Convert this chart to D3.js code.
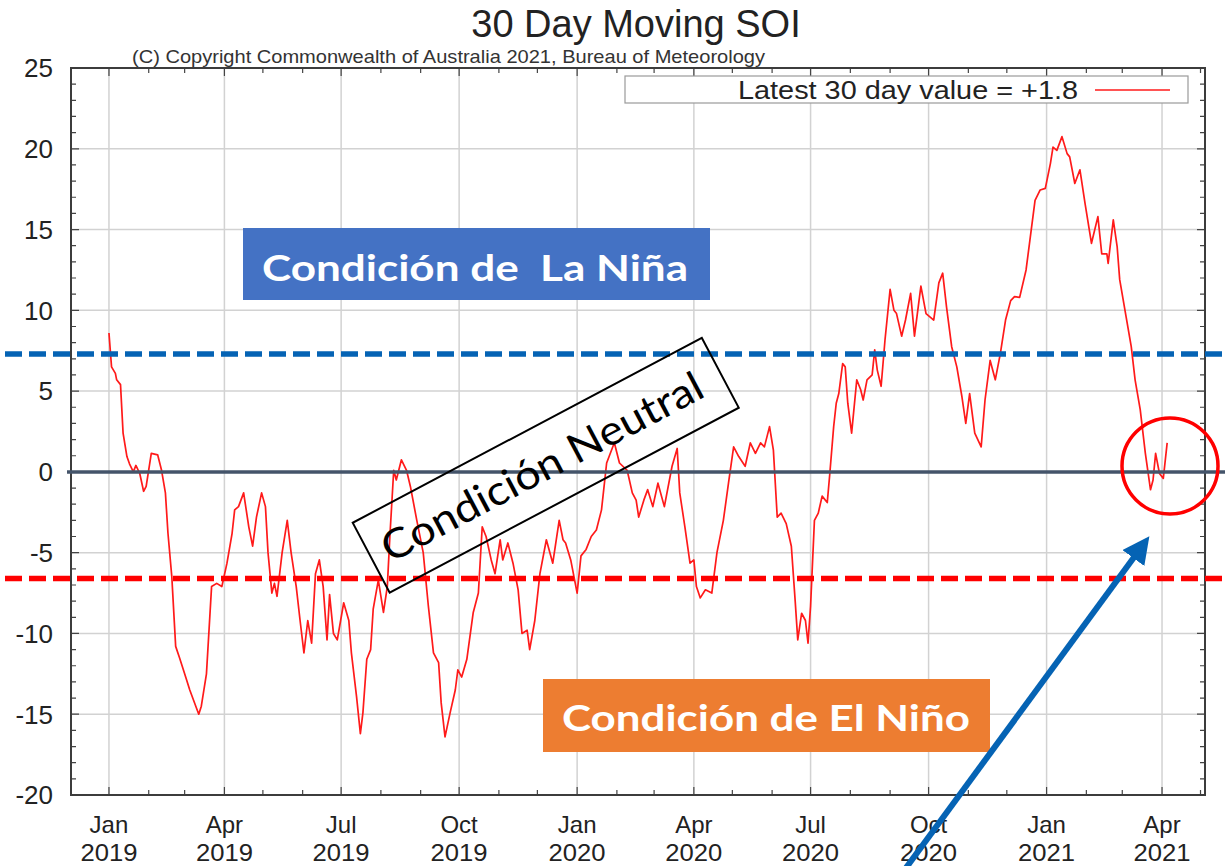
<!DOCTYPE html>
<html>
<head>
<meta charset="utf-8">
<script src="https://cdn.jsdelivr.net/npm/d3@7"></script>
<style>
  body { margin: 0; background: #fff; }
  svg { display: block; }
</style>
</head>
<body>
<svg id="chart" width="1225" height="866"></svg>
<script>
// days since 1 Jan 2019
var dayOffsets = [0,2,5,6,9,11,14,16,19,21,24,27,29,33,38,41,44,46,49,52,
    55,59,63,70,72,76,80,84,88,92,96,98,101,105,109,112,115,119,122,124,
    127,129,131,135,139,142,146,149,152,155,158,161,164,167,170,172,175,178,183,187,
    189,193,196,198,201,204,206,210,214,217,219,222,224,228,232,235,240,245,249,253,
    257,259,262,266,270,272,275,279,284,288,291,294,298,301,305,307,311,315,319,322,
    326,328,332,336,341,346,351,354,356,360,365,368,372,376,380,384,388,394,398,404,
    408,411,413,417,420,424,428,433,439,443,445,449,453,456,458,461,465,470,474,479,
    483,487,491,496,500,504,508,511,515,518,521,524,528,532,535,537,540,543,545,547,
    550,553,556,560,562,565,567,569,572,574,576,579,583,586,588,591,595,597,599,602,
    605,609,612,614,618,621,625,628,633,637,640,643,647,650,653,657,661,665,668,671,
    675,680,683,687,691,695,699,703,706,710,715,718,722,726,730,734,736,739,743,747,
    749,753,757,761,766,771,774,778,779,783,786,788,793,797,800,804,808,812,814,816,
    819,822,825];

var soiValues = [8.6,6.5,6.1,5.7,5.4,2.4,0.95,0.5,0.0,0.4,-0.1,-1.2,-0.9,1.15,1.05,0.1,-1.3,-3.8,-6.5,-10.8,
    -11.5,-12.5,-13.5,-15.0,-14.5,-12.5,-7.1,-6.9,-7.1,-5.65,-3.8,-2.35,-2.15,-1.3,-3.4,-4.6,-2.8,-1.3,-2.15,-5.0,
    -7.5,-6.9,-7.7,-5.0,-3.0,-5.0,-7.1,-9.2,-11.2,-9.2,-10.6,-6.3,-5.45,-7.1,-10.4,-7.6,-10.0,-10.4,-8.1,-9.2,
    -11.2,-13.9,-16.2,-14.9,-11.6,-11.0,-8.5,-6.7,-8.7,-7.1,-4.0,0.1,-0.5,0.75,0.1,-0.9,-3.0,-5.0,-8.3,-11.2,
    -11.8,-14.3,-16.4,-14.9,-13.5,-12.25,-12.7,-11.6,-8.7,-7.5,-3.4,-4.0,-5.45,-6.3,-4.2,-5.45,-4.4,-5.65,-7.3,-10.0,
    -9.8,-11.0,-9.2,-6.3,-4.2,-5.65,-3.0,-4.2,-4.4,-5.45,-7.5,-5.2,-4.8,-4.0,-3.6,-2.35,0.55,1.8,0.55,0.1,
    -1.3,-1.75,-2.8,-1.75,-1.1,-2.15,-0.7,-2.15,0.35,1.45,-1.3,-3.4,-5.65,-5.45,-7.1,-7.8,-7.3,-7.5,-5.0,-3.0,
    -0.7,1.55,0.95,0.35,1.8,1.15,1.8,1.55,2.8,1.35,-2.8,-2.55,-3.2,-4.6,-8.0,-10.4,-8.75,-9.2,-10.6,-8.3,
    -3.0,-2.55,-1.5,-1.9,-0.1,2.8,4.25,4.85,6.7,6.5,4.25,2.4,5.7,5.1,4.45,5.7,6.0,7.55,6.3,5.3,
    8.15,11.3,10.0,9.8,8.4,9.4,11.05,8.4,11.5,9.8,9.6,9.4,11.7,12.3,10.2,7.75,6.5,4.65,3.0,4.85,
    2.4,1.55,4.45,6.9,5.7,7.35,9.4,10.6,10.85,10.8,12.5,14.35,16.8,17.45,17.55,19.1,20.1,19.9,20.75,19.7,
    19.5,17.85,18.7,16.6,14.15,15.8,13.5,13.5,12.9,15.6,13.95,11.9,9.6,7.75,5.7,3.85,1.15,-1.1,-0.5,1.15,
    -0.1,-0.4,1.8];

var quarterDates = ['2019-01-01','2019-04-01','2019-07-01','2019-10-01','2020-01-01',
    '2020-04-01','2020-07-01','2020-10-01','2021-01-01','2021-04-01'];
var quarterMonths = ['Jan','Apr','Jul','Oct','Jan','Apr','Jul','Oct','Jan','Apr'];
var quarterYears = ['2019','2019','2019','2019','2020','2020','2020','2020','2021','2021'];
var yTicks = [-20,-15,-10,-5,0,5,10,15,20,25];

var latestLabel = 'Latest 30 day value = +1.8';
var laNinaLevel = 7.3,
    elNinoLevel = -6.6;

var svg = d3.select('#chart'),
    chartFont = '"Liberation Sans", Arial, sans-serif',
    noteFont = 'Lato, "Open Sans", sans-serif';

function dayToDate(d) {
    return new Date(Date.UTC(2019, 0, 1) + d * 864e5);
}

var x = d3.scaleUtc()
    .domain([dayToDate(-29.6), dayToDate(854.5)])
    .range([71, 1205]);
var y = d3.scaleLinear()
    .domain([-20, 25])
    .range([795, 68]);

var quarterTicks = quarterDates.map(function(s) { return new Date(s + 'T00:00:00Z'); });
var monthTicks = d3.utcMonth.range(x.domain()[0], x.domain()[1]);

// grid
var grid = svg.append('g').attr('stroke', '#d2d2d2').attr('stroke-width', 1.5);
grid.selectAll('.vg').data(quarterTicks).enter().append('line')
    .attr('x1', function(d) { return x(d); }).attr('x2', function(d) { return x(d); })
    .attr('y1', y(-20)).attr('y2', y(25));
grid.selectAll('.hg').data(yTicks.slice(1, -1)).enter().append('line')
    .attr('x1', x.range()[0]).attr('x2', x.range()[1])
    .attr('y1', function(d) { return y(d); }).attr('y2', function(d) { return y(d); });

// ticks on all four sides, pointing inward
var ticks = svg.append('g').attr('stroke', '#444').attr('stroke-width', 1.2);
var yMinor = d3.range(-20, 26, 1);
ticks.selectAll('.yt').data(yMinor).enter().append('path')
    .attr('d', function(d) {
        var len = d % 5 === 0 ? 8 : 5, yy = y(d);
        return 'M' + x.range()[0] + ',' + yy + 'h' + len +
               'M' + x.range()[1] + ',' + yy + 'h' + (-len);
    });
ticks.selectAll('.xt').data(monthTicks).enter().append('path')
    .attr('d', function(d) {
        var isQ = d.getUTCMonth() % 3 === 0, len = isQ ? 8 : 5, xx = x(d);
        return 'M' + xx + ',' + y(-20) + 'v' + (-len) +
               'M' + xx + ',' + y(25) + 'v' + len;
    });

// data line
var line = d3.line()
    .x(function(d) { return x(dayToDate(d[0])); })
    .y(function(d) { return y(d[1]); });
var points = d3.zip(dayOffsets, soiValues);
svg.append('path')
    .datum(points)
    .attr('fill', 'none')
    .attr('stroke', '#ff1a1a')
    .attr('stroke-width', 1.7)
    .attr('stroke-linejoin', 'round')
    .attr('d', line);

// frame
svg.append('rect')
    .attr('x', x.range()[0]).attr('y', y(25))
    .attr('width', x.range()[1] - x.range()[0]).attr('height', y(-20) - y(25))
    .attr('fill', 'none').attr('stroke', '#3c3c3c').attr('stroke-width', 2);

// axis labels
svg.append('g').selectAll('text').data(yTicks).enter().append('text')
    .attr('x', 53).attr('y', function(d) { return y(d); })
    .attr('dy', '0.36em')
    .attr('text-anchor', 'end')
    .attr('font-family', chartFont).attr('font-size', 26).attr('fill', '#222')
    .text(function(d) { return d; });

var xl = svg.append('g').attr('font-family', chartFont).attr('font-size', 24)
    .attr('fill', '#222').attr('text-anchor', 'middle');
xl.selectAll('.m').data(quarterTicks).enter().append('text')
    .attr('x', function(d) { return x(d); }).attr('y', 833)
    .text(function(d, i) { return quarterMonths[i]; });
xl.selectAll('.yr').data(quarterTicks).enter().append('text')
    .attr('x', function(d) { return x(d); }).attr('y', 861)
    .attr('textLength', 57).attr('lengthAdjust', 'spacingAndGlyphs')
    .text(function(d, i) { return quarterYears[i]; });

// title + copyright
svg.append('text')
    .attr('x', 636).attr('y', 37).attr('text-anchor', 'middle')
    .attr('font-family', chartFont).attr('font-size', 38).attr('fill', '#222')
    .text('30 Day Moving SOI');
svg.append('text')
    .attr('x', 132).attr('y', 63)
    .attr('font-family', chartFont).attr('font-size', 19).attr('fill', '#333')
    .attr('textLength', 633).attr('lengthAdjust', 'spacingAndGlyphs')
    .text('(C) Copyright Commonwealth of Australia 2021, Bureau of Meteorology');

// legend
svg.append('rect')
    .attr('x', 625).attr('y', 76).attr('width', 563).attr('height', 27)
    .attr('fill', '#fff').attr('stroke', '#9a9a9a').attr('stroke-width', 1.2);
svg.append('text')
    .attr('x', 1078).attr('y', 99).attr('text-anchor', 'end')
    .attr('font-family', chartFont).attr('font-size', 26).attr('fill', '#222')
    .attr('textLength', 340).attr('lengthAdjust', 'spacingAndGlyphs')
    .text(latestLabel);
svg.append('line')
    .attr('x1', 1095).attr('x2', 1170).attr('y1', 90).attr('y2', 90)
    .attr('stroke', '#ff1a1a').attr('stroke-width', 1.5);

// threshold lines (overlay)
svg.append('line')
    .attr('x1', 5).attr('x2', 1225).attr('y1', y(laNinaLevel)).attr('y2', y(laNinaLevel))
    .attr('stroke', '#0563b4').attr('stroke-width', 5.5).attr('stroke-dasharray', '17,7');
svg.append('line')
    .attr('x1', 5).attr('x2', 1225).attr('y1', y(elNinoLevel)).attr('y2', y(elNinoLevel))
    .attr('stroke', '#ff0000').attr('stroke-width', 5.5).attr('stroke-dasharray', '17,7');
svg.append('line')
    .attr('x1', 67).attr('x2', 1225).attr('y1', y(0)).attr('y2', y(0))
    .attr('stroke', '#44546a').attr('stroke-width', 3.5);

// callout boxes
svg.append('rect')
    .attr('x', 243).attr('y', 228).attr('width', 467).attr('height', 72)
    .attr('fill', '#4472c4');
svg.append('text')
    .attr('x', 262).attr('y', 281)
    .attr('font-family', noteFont).attr('font-weight', 700).attr('font-size', 37)
    .attr('fill', '#fff').attr('xml:space', 'preserve')
    .attr('textLength', 426).attr('lengthAdjust', 'spacingAndGlyphs')
    .text('Condición de  La Niña');

svg.append('rect')
    .attr('x', 543).attr('y', 679).attr('width', 447).attr('height', 73)
    .attr('fill', '#ed7d31');
svg.append('text')
    .attr('x', 562).attr('y', 731)
    .attr('font-family', noteFont).attr('font-weight', 700).attr('font-size', 37)
    .attr('fill', '#fff')
    .attr('textLength', 408).attr('lengthAdjust', 'spacingAndGlyphs')
    .text('Condición de El Niño');

var neutral = svg.append('g')
    .attr('transform', 'translate(545.75,465.25) rotate(-27.9)');
neutral.append('rect')
    .attr('x', -197.5).attr('y', -39.5).attr('width', 395).attr('height', 79)
    .attr('fill', 'none').attr('stroke', '#000').attr('stroke-width', 2);
neutral.append('text')
    .attr('x', -4).attr('y', 14).attr('text-anchor', 'middle')
    .attr('font-family', noteFont).attr('font-size', 41).attr('fill', '#000')
    .attr('textLength', 358).attr('lengthAdjust', 'spacingAndGlyphs')
    .text('Condición Neutral');

// highlight circle + arrow
svg.append('circle')
    .attr('cx', 1170).attr('cy', 466).attr('r', 48)
    .attr('fill', 'none').attr('stroke', '#ff0000').attr('stroke-width', 3.5);

svg.append('defs').append('marker')
    .attr('id', 'head').attr('viewBox', '0 0 10 10')
    .attr('refX', 6).attr('refY', 5)
    .attr('markerWidth', 4.5).attr('markerHeight', 4.5)
    .attr('orient', 'auto')
  .append('path')
    .attr('d', 'M0,0L10,5L0,10z').attr('fill', '#0563b4');
svg.append('line')
    .attr('x1', 903).attr('y1', 872).attr('x2', 1143).attr('y2', 545)
    .attr('stroke', '#0563b4').attr('stroke-width', 6)
    .attr('marker-end', 'url(#head)');
</script>
</body>
</html>
